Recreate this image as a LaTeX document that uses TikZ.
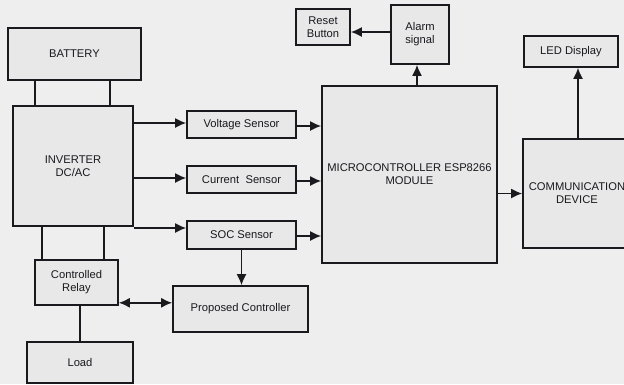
\documentclass[tikz,border=0pt]{standalone}
\usepackage{fontspec}
\setmainfont{Liberation Sans}
\usetikzlibrary{arrows.meta}
\definecolor{bgc}{RGB}{238,238,238}
\definecolor{boxc}{RGB}{232,232,232}
\definecolor{inkc}{RGB}{25,25,30}
\begin{document}
\begin{tikzpicture}[x=1pt,y=-1pt,
  blk/.style={draw=inkc,line width=1.6pt,fill=boxc,inner sep=0pt,align=center,font=\fontsize{11.2}{13}\selectfont,text=inkc},
  arr/.style={draw=inkc,line width=1.6pt,-{Latex[length=11pt,width=10pt]}},
  dbl/.style={draw=inkc,line width=1.6pt,{Latex[length=11pt,width=10pt]}-{Latex[length=11pt,width=10pt]}},
  ln/.style={draw=inkc,line width=1.6pt}]
\useasboundingbox (0,0) rectangle (624,384);
\clip (0,0) rectangle (624,384);
\fill[bgc] (0,0) rectangle (624,384);
\node[blk,minimum width=133,minimum height=52] (bat) at (74.5,54) {BATTERY};
\node[blk,minimum width=120,minimum height=120] (inv) at (73,166) {INVERTER\\DC/AC};
\node[blk,minimum width=109,minimum height=27] (volt) at (241.5,124.5) {Voltage Sensor};
\node[blk,minimum width=109,minimum height=27] (cur) at (241.5,179.5) {Current~ Sensor};
\node[blk,minimum width=109,minimum height=28] (soc) at (241.5,235) {SOC Sensor};
\node[blk,minimum width=175,minimum height=177] (mcu) at (409.5,174.5) {MICROCONTROLLER ESP8266\\MODULE};
\node[blk,minimum width=58,minimum height=59] (alarm) at (420,34.5) {Alarm\\signal};
\node[blk,minimum width=54,minimum height=36] (reset) at (323,27) {Reset\\Button};
\node[blk,minimum width=94,minimum height=31] (led) at (571,51.5) {LED Display};
\node[blk,minimum width=108,minimum height=109] (comm) at (577,193.5) {COMMUNICATION\\DEVICE};
\node[blk,minimum width=83,minimum height=45] (relay) at (76.5,282.5) {Controlled\\Relay};
\node[blk,minimum width=106,minimum height=41] (load) at (80,362.5) {Load};
\node[blk,minimum width=135,minimum height=46] (pc) at (240.5,309) {Proposed Controller};
% battery - inverter
\draw[ln] ([xshift=28pt]bat.south west) -- ([xshift=28pt]bat.south west |- inv.north);
\draw[ln] ([xshift=103pt]bat.south west) -- ([xshift=103pt]bat.south west |- inv.north);
% inverter -> sensors
\coordinate (va) at ([yshift=1.5pt]volt.west);
\draw[arr] (va -| inv.east) -- (va);
\coordinate (ca) at ([yshift=1.5pt]cur.west);
\draw[arr] (ca -| inv.east) -- (ca);
\coordinate (sa) at ([yshift=7pt]soc.west);
\draw[arr] (sa -| inv.east) -- (sa);
% sensors -> mcu
\draw[arr] ([yshift=-1.5pt]volt.east) -- ([yshift=-1.5pt]volt.east -| mcu.west);
\draw[arr] ([yshift=-1.5pt]cur.east) -- ([yshift=-1.5pt]cur.east -| mcu.west);
\draw[arr] ([yshift=-1pt]soc.east) -- ([yshift=-1pt]soc.east -| mcu.west);
% mcu -> alarm
\coordinate (am) at ([xshift=-3pt]alarm.south);
\draw[arr] (am |- mcu.north) -- (am);
% alarm -> reset
\coordinate (rp) at ([yshift=-5pt]reset.east);
\draw[arr] (rp -| alarm.west) -- (rp);
% mcu -> comm
\draw[arr] (comm.west -| mcu.east) -- (comm.west);
% comm -> led
\coordinate (lp) at ([xshift=1pt]comm.north);
\draw[arr] (lp) -- (lp |- led.south);
% inverter - relay
\draw[ln] ([xshift=30pt]inv.south west) -- ([xshift=30pt]inv.south west |- relay.north);
\draw[ln] ([xshift=92pt]inv.south west) -- ([xshift=92pt]inv.south west |- relay.north);
% relay - load
\draw[ln] (load.north) -- (load.north |- relay.south);
% soc -> controller
\draw[arr] (soc.south) -- (soc.south |- pc.north);
% relay <-> controller
\coordinate (rc) at ([yshift=3pt]relay.south east);
\draw[dbl] (rc) -- (rc -| pc.west);
\end{tikzpicture}
\end{document}
